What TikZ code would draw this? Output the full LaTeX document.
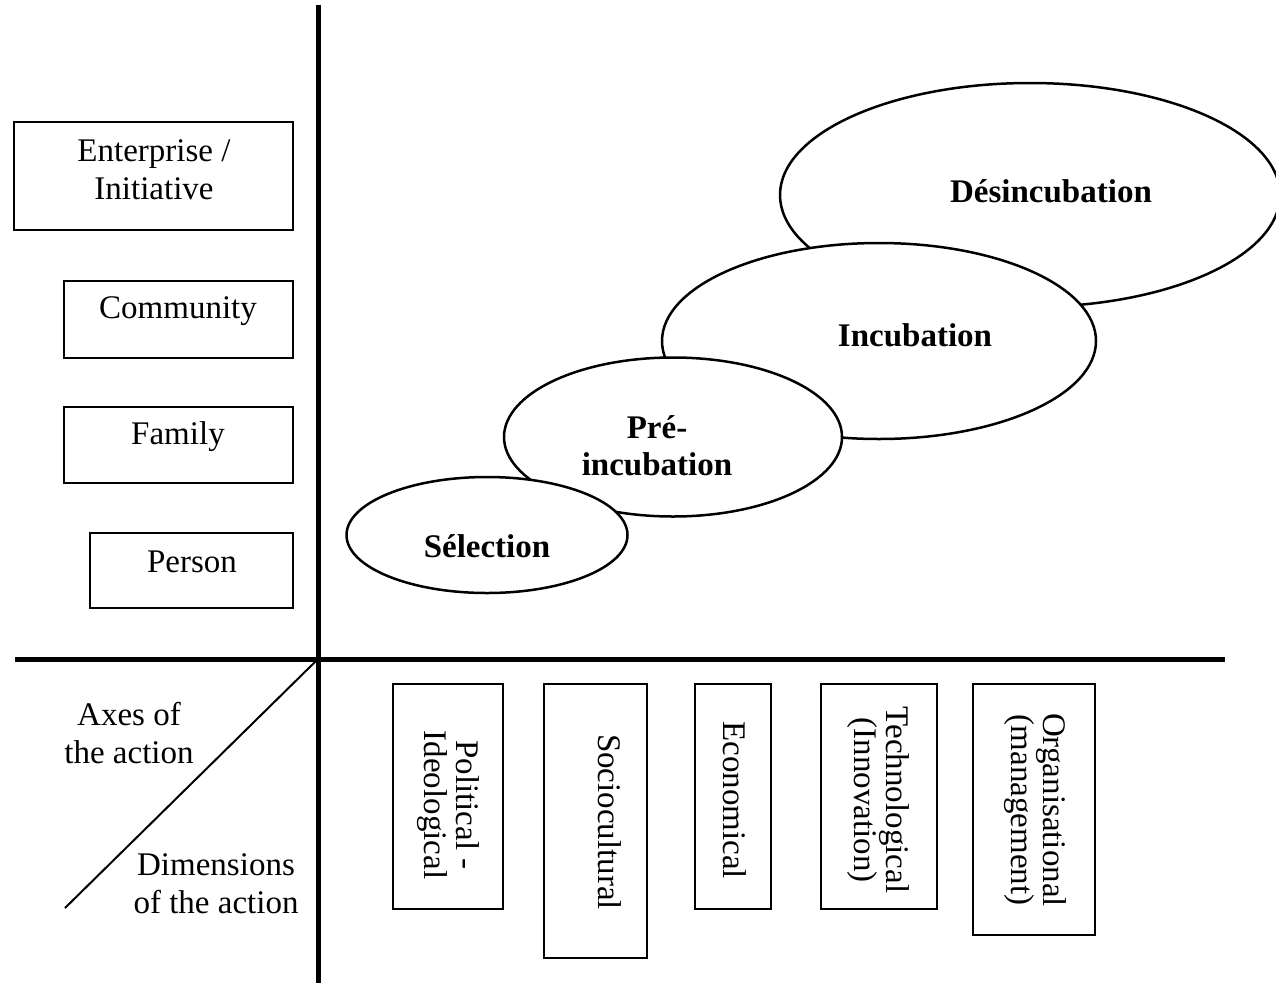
\documentclass[tikz,border=0pt]{standalone}
\usepackage{fontspec}
\setmainfont{Liberation Serif}
\usetikzlibrary{shapes.geometric}
\begin{document}
\begin{tikzpicture}[x=1pt,y=-1pt,
  txt/.style={font=\fontsize{33}{38}\selectfont, align=center, inner sep=0pt},
  btxt/.style={font=\fontsize{33}{37}\selectfont\bfseries, align=center, inner sep=0pt},
  vtxt/.style={font=\fontsize{33}{32}\selectfont, align=center, inner sep=0pt, rotate=-90},
  lvlbox/.style={draw, line width=2pt},
  dimbox/.style={draw, line width=2pt},
  phase/.style={ellipse, draw, line width=2.5pt, fill=white, inner sep=0pt},
  axis/.style={line width=5pt},
]
\useasboundingbox (0,0) rectangle (1276,983);
\clip (0,0) rectangle (1276,983);

% axes
\coordinate (O) at (318,659);
\coordinate (top) at (318,5);
\coordinate (bot) at (318,983);
\coordinate (L) at (15,659);
\coordinate (R) at (1225,659);
\coordinate (D) at (65,908);
\draw[axis] (top) -- (bot);
\draw[axis] (L) -- (R);
\draw[line width=2pt] (D) -- (O);

% left level boxes
\draw[lvlbox] (14,122) rectangle (293,230);
\draw[lvlbox] (64,281) rectangle (293,358);
\draw[lvlbox] (64,407) rectangle (293,483);
\draw[lvlbox] (90,533) rectangle (293,608);
\node[txt] (ent) at (154,170) {Enterprise /\\Initiative};
\node[txt] (com) at (178,311) {Community};
\node[txt] (fam) at (178,437) {Family};
\node[txt] (per) at (192,562) {Person};

% phases
\node[phase, minimum width=500pt, minimum height=224pt] (des) at (1030,195) {};
\node[phase, minimum width=434pt, minimum height=196pt] (inc) at (879,341) {};
\node[phase, minimum width=338pt, minimum height=159pt] (pre) at (673,437) {};
\node[phase, minimum width=281pt, minimum height=116pt] (sel) at (487,535) {};
\node[btxt] (tdes) at (1051,191) {Désincubation};
\node[btxt] (tinc) at (915,335) {Incubation};
\node[btxt] (tpre) at (657,446) {Pré-\\incubation};
\node[btxt] (tsel) at (487,546) {Sélection};

% axes labels
\node[txt] (axes) at (129,733) {Axes of\\the action};
\node[txt] (dims) at (216,884) {Dimensions\\of the action};

% dimension boxes
\draw[dimbox] (393,684) rectangle (503,909);
\draw[dimbox] (544,684) rectangle (647,958);
\draw[dimbox] (695,684) rectangle (771,909);
\draw[dimbox] (821,684) rectangle (937,909);
\draw[dimbox] (973,684) rectangle (1095,935);
\node[vtxt] (pol) at (448,805) {Political -\\Ideological};
\node[vtxt] (soc) at (610,822) {Sociocultural};
\node[vtxt] (eco) at (735,800) {Economical};
\node[vtxt] (tec) at (878,800) {Technological\\(Innovation)};
\node[vtxt] (org) at (1035,810) {Organisational\\(management)};
\end{tikzpicture}
\end{document}
